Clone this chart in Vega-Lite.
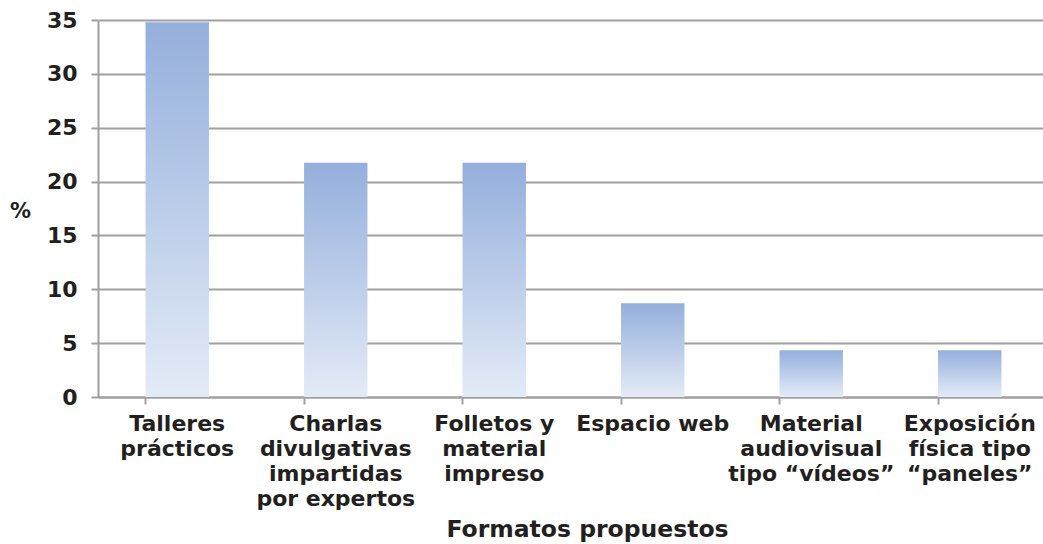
{
  "$schema": "https://vega.github.io/schema/vega-lite/v6.json",
  "width": 951,
  "height": 377,
  "autosize": {"type": "none"},
  "padding": {"left": 98, "top": 20, "right": 0, "bottom": 147},
  "background": "white",
  "config": {
    "view": {"stroke": null},
    "font": "DejaVu Sans",
    "axis": {
      "labelFont": "DejaVu Sans",
      "labelFontWeight": "bold",
      "labelFontSize": 22,
      "labelColor": "#231f20",
      "titleFont": "DejaVu Sans",
      "titleFontWeight": "bold",
      "titleColor": "#231f20",
      "domainColor": "#a0a0a0",
      "domainWidth": 2,
      "tickColor": "#a0a0a0",
      "tickWidth": 2,
      "tickSize": 7,
      "gridColor": "#a0a0a0",
      "gridWidth": 2
    }
  },
  "data": {
    "values": [
      {"formato": "Talleres\nprácticos", "pct": 34.78},
      {"formato": "Charlas\ndivulgativas\nimpartidas\npor expertos", "pct": 21.74},
      {"formato": "Folletos y\nmaterial\nimpreso", "pct": 21.74},
      {"formato": "Espacio web", "pct": 8.7},
      {"formato": "Material\naudiovisual\ntipo “vídeos”", "pct": 4.35},
      {"formato": "Exposición\nfísica tipo\n“paneles”", "pct": 4.35}
    ]
  },
  "mark": {
    "type": "bar",
    "color": {
      "gradient": "linear",
      "x1": 0, "y1": 0, "x2": 0, "y2": 1,
      "stops": [
        {"offset": 0, "color": "#94afdc"},
        {"offset": 1, "color": "#e4ebf7"}
      ]
    }
  },
  "encoding": {
    "x": {
      "field": "formato",
      "type": "nominal",
      "sort": null,
      "scale": {"paddingInner": 0.6, "paddingOuter": 0.3},
      "axis": {
        "title": "Formatos propuestos",
        "titleFontSize": 23.5,
        "titleBaseline": "alphabetic",
        "titleY": 139,
        "titleX": 489,
        "labelAngle": 0,
        "labelExpr": "split(datum.value, '\\n')",
        "labelLineHeight": 25,
        "labelPadding": 9,
        "labelBaseline": "top",
        "bandPosition": 0,
        "grid": false,
        "ticks": true
      }
    },
    "y": {
      "field": "pct",
      "type": "quantitative",
      "scale": {"domain": [0, 35], "nice": false},
      "axis": {
        "title": "%",
        "titleFontSize": 21,
        "titleAngle": 0,
        "titleX": -78,
        "titleY": 191,
        "titleAlign": "center",
        "titleBaseline": "middle",
        "values": [0, 5, 10, 15, 20, 25, 30, 35],
        "labelPadding": 14,
        "grid": true
      }
    }
  }
}
